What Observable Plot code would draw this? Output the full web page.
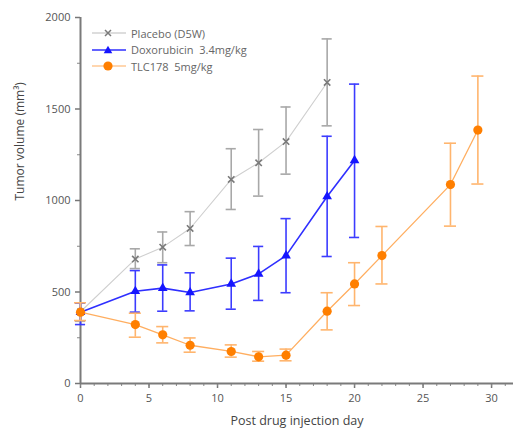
<!DOCTYPE html>
<html><head><meta charset="utf-8">
<script src="https://cdn.jsdelivr.net/npm/d3@7"></script>
<script src="https://cdn.jsdelivr.net/npm/@observablehq/plot@0.6"></script>
<style>
body{margin:0;background:#fff}
#wrap{position:relative;width:513px;height:431px;font-family:"Open Sans",sans-serif}
#legend{position:absolute;left:92px;top:25px;font-size:11px;color:#666}
#legend .row{display:flex;align-items:center;height:16.5px;white-space:pre}
#legend svg{margin-right:5px}
</style>
</head><body><div id="wrap"></div>
<script>
const seriesNames = ["Placebo (D5W)", "Doxorubicin  3.4mg/kg", "TLC178  5mg/kg"];

const placeboDays = [0, 4, 6, 8, 11, 13, 15, 18];
const placeboMean = [392, 680, 745, 847, 1115, 1206, 1322, 1645];
const placeboLow  = [340, 628, 660, 754, 951, 1024, 1144, 1408];
const placeboHigh = [440, 736, 828, 939, 1283, 1388, 1511, 1883];

const doxoDays = [0, 4, 6, 8, 11, 13, 15, 18, 20];
const doxoMean = [390, 504, 521, 497, 544, 599, 699, 1022, 1219];
const doxoLow  = [322, 390, 395, 397, 406, 454, 496, 694, 798];
const doxoHigh = [440, 617, 648, 605, 685, 749, 901, 1351, 1636];

const tlcDays = [0, 4, 6, 8, 11, 13, 15, 18, 20, 22, 27, 29];
const tlcMean = [390, 322, 266, 209, 175, 146, 155, 395, 544, 699, 1087, 1385];
const tlcLow  = [344, 253, 222, 171, 144, 122, 124, 293, 426, 544, 860, 1090];
const tlcHigh = [441, 384, 311, 249, 211, 175, 188, 496, 660, 858, 1313, 1680];

const yMajor = [0, 500, 1000, 1500, 2000];
const yMinor = [250, 750, 1250, 1750];
const xMajor = [0, 5, 10, 15, 20, 25, 30];
const xMinor = d3.range(0, 32);

const xLabel = "Post drug injection day";
const yLabel = "Tumor volume (mm³)";

function rows(days, mean, low, high) {
  return days.map((d, i) => ({day: d, mean: mean[i], low: low[i], high: high[i]}));
}
const placebo = rows(placeboDays, placeboMean, placeboLow, placeboHigh);
const doxo = rows(doxoDays, doxoMean, doxoLow, doxoHigh);
const tlc = rows(tlcDays, tlcMean, tlcLow, tlcHigh);

const styles = {
  placebo: {line: "#cfcfcf", err: "#a8a8a8", mark: "#7a7a7a"},
  doxo: {line: "#2f2fff", err: "#3c3cff", mark: "#1515ff"},
  tlc: {line: "#ffae60", err: "#ffb56e", mark: "#ff7f00"}
};

function errorMarks(data, color, cap) {
  return [
    Plot.ruleX(data, {x: "day", y1: "low", y2: "high", stroke: color, strokeWidth: 1.6}),
    Plot.ruleY(data, {y: "high", x1: d => d.day - cap, x2: d => d.day + cap, stroke: color, strokeWidth: 1.6}),
    Plot.ruleY(data, {y: "low", x1: d => d.day - cap, x2: d => d.day + cap, stroke: color, strokeWidth: 1.6})
  ];
}

const chart = Plot.plot({
  width: 513,
  height: 431,
  marginLeft: 80,
  marginRight: 0,
  marginTop: 17,
  marginBottom: 48,
  style: {fontFamily: "'Open Sans', sans-serif", fontSize: "11px", color: "#555", background: "#fff"},
  x: {domain: [0, 31.6]},
  y: {domain: [0, 2000]},
  marks: [
    Plot.axisY({ticks: yMajor, tickSize: 5, tickPadding: 5, tickFormat: d => String(d), stroke: "#777", strokeWidth: 1.5, label: null}),
    Plot.axisY({ticks: yMinor, tickSize: 3, tickFormat: () => "", stroke: "#888", label: null}),
    Plot.axisX({ticks: xMajor, tickSize: 5, tickPadding: 6, tickFormat: d => String(d), stroke: "#777", strokeWidth: 1.5, label: null}),
    Plot.axisX({ticks: xMinor, tickSize: 3, tickFormat: () => "", stroke: "#888", label: null}),
    Plot.ruleX([0], {stroke: "#7a7a7a", strokeWidth: 2}),
    Plot.ruleY([0], {stroke: "#7a7a7a", strokeWidth: 2}),
    Plot.text([xLabel], {frameAnchor: "bottom", dy: 41, fontSize: 12.5, fill: "#444"}),
    Plot.text([yLabel], {frameAnchor: "left", dx: -60, rotate: -90, fontSize: 12, fill: "#444"}),

    Plot.line(placebo, {x: "day", y: "mean", stroke: styles.placebo.line, strokeWidth: 1.1}),
    ...errorMarks(placebo, styles.placebo.err, 0.37),
    Plot.dot(placebo, {x: "day", y: "mean", symbol: "times", r: 3, stroke: styles.placebo.mark, strokeWidth: 1.6}),

    Plot.line(doxo, {x: "day", y: "mean", stroke: styles.doxo.line, strokeWidth: 1.6}),
    ...errorMarks(doxo, styles.doxo.err, 0.37),
    Plot.dot(doxo, {x: "day", y: "mean", symbol: "triangle", r: 3.6, fill: styles.doxo.mark}),

    Plot.line(tlc, {x: "day", y: "mean", stroke: styles.tlc.line, strokeWidth: 1.3}),
    ...errorMarks(tlc, styles.tlc.err, 0.44),
    Plot.dot(tlc, {x: "day", y: "mean", symbol: "circle", r: 4.6, fill: styles.tlc.mark})
  ]
});

const wrap = document.getElementById("wrap");
wrap.appendChild(chart);

// Legend overlay
const legendKeys = ["placebo", "doxo", "tlc"];
const legend = document.createElement("div");
legend.id = "legend";
legendKeys.forEach((k, i) => {
  const row = document.createElement("div");
  row.className = "row";
  const s = styles[k];
  let marker;
  if (k === "placebo") marker = `<path d="M13,3 L19,9 M19,3 L13,9" stroke="${s.mark}" stroke-width="1.5"/>`;
  else if (k === "doxo") marker = `<path d="M16,1.8 L20.3,9.2 L11.7,9.2 Z" fill="${s.mark}"/>`;
  else marker = `<circle cx="16" cy="6" r="4.6" fill="${s.mark}"/>`;
  const lw = k === "doxo" ? 1.6 : 1.2;
  row.innerHTML = `<svg width="34" height="12"><line x1="0" y1="6" x2="34" y2="6" stroke="${k === "placebo" ? "#bbb" : s.line}" stroke-width="${lw}"/>${marker}</svg><span>${seriesNames[i]}</span>`;
  legend.appendChild(row);
});
wrap.appendChild(legend);
</script>
</body></html>
